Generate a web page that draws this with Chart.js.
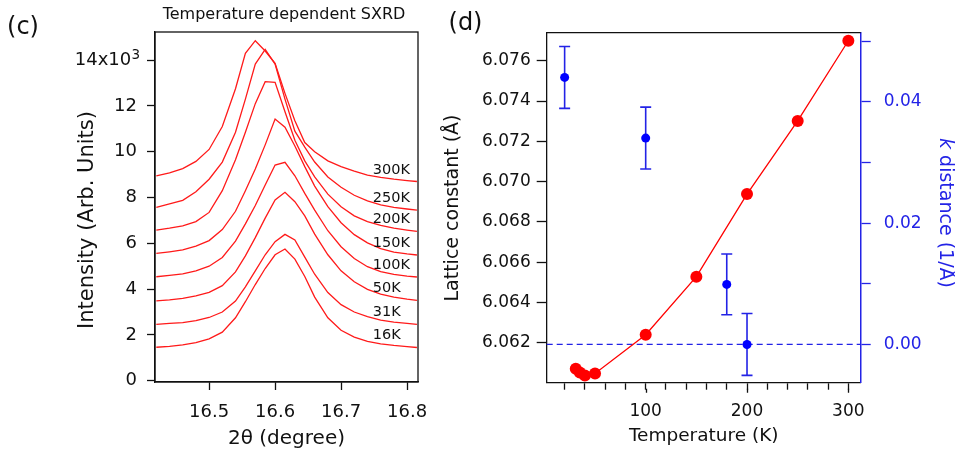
<!DOCTYPE html>
<html>
<head>
<meta charset="utf-8">
<script src="https://cdn.jsdelivr.net/npm/chart.js@4.4.0/dist/chart.umd.min.js"></script>
<style>
  body { margin: 0; background: #fff; }
  #wrap { position: relative; width: 955px; height: 455px; }
  canvas { position: absolute; top: 0; }
</style>
</head>
<body>
<div id="wrap">
  <canvas id="chartC" width="430" height="455" style="left:0"></canvas>
  <canvas id="chartD" width="525" height="455" style="left:430px"></canvas>
</div>
<script>
// --- panel (c): SXRD scans, intensity in units of 10^3 ---
const twoTheta = [16.42, 16.44, 16.46, 16.48, 16.50, 16.52, 16.54, 16.555, 16.57, 16.585, 16.60, 16.615,
                  16.63, 16.645, 16.66, 16.68, 16.70, 16.72, 16.74, 16.76, 16.78, 16.80, 16.815];
const int16K  = [1.46, 1.50, 1.56, 1.66, 1.83, 2.12, 2.75, 3.45, 4.20, 4.90, 5.50, 5.75, 5.31, 4.55, 3.65, 2.75, 2.20, 1.90, 1.72, 1.61, 1.54, 1.49, 1.45];
const int31K  = [2.46, 2.50, 2.54, 2.62, 2.76, 3.00, 3.48, 4.10, 4.80, 5.50, 6.07, 6.39, 6.15, 5.40, 4.65, 3.85, 3.32, 3.00, 2.80, 2.65, 2.56, 2.50, 2.46];
const int50K  = [3.49, 3.53, 3.60, 3.70, 3.86, 4.15, 4.75, 5.45, 6.25, 7.10, 7.89, 8.23, 7.82, 7.20, 6.40, 5.50, 4.80, 4.32, 3.99, 3.78, 3.65, 3.56, 3.51];
const int100K = [4.54, 4.60, 4.67, 4.80, 5.00, 5.38, 6.10, 6.85, 7.65, 8.55, 9.42, 9.54, 8.95, 8.18, 7.45, 6.55, 5.85, 5.34, 4.98, 4.76, 4.64, 4.57, 4.53];
const int150K = [5.56, 5.63, 5.71, 5.88, 6.12, 6.60, 7.40, 8.30, 9.25, 10.30, 11.43, 11.07, 10.25, 9.35, 8.50, 7.60, 6.90, 6.38, 6.02, 5.77, 5.62, 5.54, 5.49];
const int200K = [6.58, 6.66, 6.76, 6.95, 7.35, 8.30, 9.65, 10.85, 12.10, 13.06, 13.03, 11.75, 10.50, 9.60, 8.90, 8.15, 7.60, 7.20, 6.95, 6.78, 6.66, 6.58, 6.52];
const int250K = [7.57, 7.72, 7.88, 8.25, 8.80, 9.55, 10.85, 12.30, 13.83, 14.47, 13.83, 12.30, 10.90, 10.20, 9.55, 8.90, 8.45, 8.10, 7.85, 7.68, 7.57, 7.50, 7.45];
const int300K = [8.95, 9.08, 9.26, 9.58, 10.10, 11.10, 12.75, 14.30, 14.85, 14.40, 13.86, 12.55, 11.35, 10.40, 10.00, 9.60, 9.35, 9.15, 8.98, 8.88, 8.80, 8.74, 8.70];
const curveNames = ["16K", "31K", "50K", "100K", "150K", "200K", "250K", "300K"];
const curves = [int16K, int31K, int50K, int100K, int150K, int200K, int250K, int300K];
const labelTheta = 16.748;

// --- panel (d): lattice constant and k distance vs temperature ---
const tempLattice = [31, 35, 40, 50, 100, 150, 200, 250, 300];
const lattice = [6.06071, 6.06053, 6.06038, 6.06048, 6.06240, 6.06528, 6.06938, 6.07301, 6.07699];
const tempK = [20, 100, 180, 200];
const kDist = [0.0440, 0.0340, 0.0099, 0.0000];
const kErr = [0.0051, 0.0051, 0.0050, 0.0051];
const majorTemps = [100, 200, 300];

const FONT = "'DejaVu Sans', sans-serif";
const INK = "#111";
const BLUE = "#2323e6";
Chart.defaults.font.family = FONT;
Chart.defaults.animation = false;

// pin the plot area: fixed axis size, no extra label padding
function fixAxis(size) {
  return s => {
    if (s.isHorizontal()) s.height = size; else s.width = size;
    s.paddingLeft = 0; s.paddingRight = 0; s.paddingTop = 0; s.paddingBottom = 0;
  };
}

function rotText(ctx, txt, x, y, ang) {
  ctx.save();
  ctx.translate(x, y);
  ctx.rotate(ang);
  ctx.textAlign = "center";
  ctx.textBaseline = "middle";
  ctx.fillText(txt, 0, 0);
  ctx.restore();
}

const panelC = {
  id: "panelC",
  afterDraw(chart) {
    const { ctx, chartArea: a, scales: { x, y } } = chart;
    ctx.save();
    ctx.strokeStyle = INK;
    ctx.lineWidth = 1.3;
    ctx.strokeRect(a.left, a.top, a.right - a.left, a.bottom - a.top);
    ctx.fillStyle = INK;
    ctx.textAlign = "center";
    ctx.textBaseline = "middle";
    ctx.font = "24px " + FONT;
    ctx.fillText("(c)", 23, 28);
    ctx.font = "16px " + FONT;
    ctx.fillText("Temperature dependent SXRD", 284, 15);
    ctx.font = "20px " + FONT;
    ctx.fillText("2\u03b8 (degree)", (a.left + a.right) / 2, 439);
    ctx.font = "21px " + FONT;
    rotText(ctx, "Intensity (Arb. Units)", 88, 220, -Math.PI / 2);
    // exponent of the 14x10^3 tick
    ctx.font = "13.5px " + FONT;
    ctx.textAlign = "left";
    ctx.textBaseline = "alphabetic";
    ctx.fillText("3", a.left - 23.5, y.getPixelForValue(14) - 1.5);
    // curve labels
    ctx.font = "14.5px " + FONT;
    curves.forEach((vals, i) => {
      ctx.fillText(curveNames[i], x.getPixelForValue(labelTheta), y.getPixelForValue(vals[vals.length - 1]) - 8);
    });
    ctx.restore();
  }
};

new Chart(document.getElementById("chartC"), {
  type: "scatter",
  data: {
    datasets: curves.map(vals => ({
      data: twoTheta.map((t, i) => ({ x: t, y: vals[i] })),
      showLine: true,
      pointRadius: 0,
      borderColor: "#ff1a1a",
      borderWidth: 1.3,
      tension: 0
    }))
  },
  options: {
    responsive: false,
    devicePixelRatio: 1,
    layout: { padding: { top: 32, right: 12, left: 0, bottom: 0 } },
    plugins: { legend: { display: false }, tooltip: { enabled: false } },
    scales: {
      x: {
        type: "linear", min: 16.418, max: 16.8166,
        afterFit: fixAxis(73),
        border: { display: true, color: INK, width: 1.3 },
        grid: { drawOnChartArea: false, tickLength: 8, tickColor: INK, tickWidth: 1.3 },
        ticks: {
          stepSize: 0.1, includeBounds: false, autoSkip: false, maxRotation: 0,
          color: INK, font: { size: 18 }, padding: 12,
          callback: v => v.toFixed(1)
        }
      },
      y: {
        type: "linear", min: -0.057, max: 15.23,
        afterFit: fixAxis(155),
        border: { display: true, color: INK, width: 1.3 },
        grid: { drawOnChartArea: false, tickLength: 8, tickColor: INK, tickWidth: 1.3 },
        ticks: {
          stepSize: 2, includeBounds: false, autoSkip: false,
          color: INK, font: { size: 18 }, padding: 10,
          callback: v => Math.round(v) === 14 ? "14x10 " : String(Math.round(v))
        }
      }
    }
  },
  plugins: [panelC]
});

const panelD = {
  id: "panelD",
  beforeDatasetsDraw(chart) {
    const { ctx, chartArea: a, scales: { x, y1 } } = chart;
    ctx.save();
    // zero line of the k distance axis
    ctx.strokeStyle = BLUE;
    ctx.lineWidth = 1.3;
    ctx.setLineDash([6, 4]);
    const y0 = y1.getPixelForValue(0);
    ctx.beginPath();
    ctx.moveTo(a.left, y0);
    ctx.lineTo(a.right, y0);
    ctx.stroke();
    ctx.setLineDash([]);
    // error bars
    ctx.lineWidth = 1.6;
    tempK.forEach((t, i) => {
      const px = x.getPixelForValue(t);
      const top = y1.getPixelForValue(kDist[i] + kErr[i]);
      const bot = y1.getPixelForValue(kDist[i] - kErr[i]);
      ctx.beginPath();
      ctx.moveTo(px, top); ctx.lineTo(px, bot);
      ctx.moveTo(px - 5.5, top); ctx.lineTo(px + 5.5, top);
      ctx.moveTo(px - 5.5, bot); ctx.lineTo(px + 5.5, bot);
      ctx.stroke();
    });
    ctx.restore();
  },
  afterDraw(chart) {
    const { ctx, chartArea: a, scales: { x } } = chart;
    ctx.save();
    ctx.strokeStyle = INK;
    ctx.lineWidth = 1.3;
    ctx.beginPath();
    ctx.moveTo(a.left, a.top);
    ctx.lineTo(a.right, a.top);
    // labelled ticks are a little longer
    majorTemps.forEach(t => {
      const px = Math.round(x.getPixelForValue(t)) + 0.5;
      ctx.moveTo(px, a.bottom + 6);
      ctx.lineTo(px, a.bottom + 10);
    });
    ctx.stroke();
    ctx.fillStyle = INK;
    ctx.textAlign = "center";
    ctx.textBaseline = "middle";
    ctx.font = "24px " + FONT;
    ctx.fillText("(d)", 35.5, 24);
    ctx.font = "18.5px " + FONT;
    ctx.fillText("Temperature (K)", (a.left + a.right) / 2, 436);
    ctx.font = "19px " + FONT;
    rotText(ctx, "Lattice constant (\u00c5)", 23, 208, -Math.PI / 2);
    // right axis title, italic k
    ctx.fillStyle = BLUE;
    ctx.save();
    ctx.translate(515, 213);
    ctx.rotate(Math.PI / 2);
    ctx.textBaseline = "middle";
    ctx.textAlign = "left";
    const rest = " distance (1/\u00c5)";
    ctx.font = "italic 19px " + FONT;
    const wk = ctx.measureText("k").width;
    ctx.font = "19px " + FONT;
    const wr = ctx.measureText(rest).width;
    const x0 = -(wk + wr) / 2;
    ctx.font = "italic 19px " + FONT;
    ctx.fillText("k", x0, 0);
    ctx.font = "19px " + FONT;
    ctx.fillText(rest, x0 + wk, 0);
    ctx.restore();
    ctx.restore();
  }
};

new Chart(document.getElementById("chartD"), {
  type: "scatter",
  data: {
    datasets: [
      {
        data: tempLattice.map((t, i) => ({ x: t, y: lattice[i] })),
        yAxisID: "y",
        showLine: true,
        borderColor: "#ff0000",
        backgroundColor: "#ff0000",
        borderWidth: 1.3,
        pointRadius: 6,
        pointBorderWidth: 0,
        tension: 0
      },
      {
        data: tempK.map((t, i) => ({ x: t, y: kDist[i] })),
        yAxisID: "y1",
        showLine: false,
        backgroundColor: "#0000ff",
        borderColor: "#0000ff",
        pointRadius: 4.5,
        pointBorderWidth: 0
      }
    ]
  },
  options: {
    responsive: false,
    devicePixelRatio: 1,
    clip: false,
    layout: { padding: { top: 32.7, right: 0, left: 0, bottom: 0 } },
    plugins: { legend: { display: false }, tooltip: { enabled: false } },
    scales: {
      x: {
        type: "linear", min: 2.3, max: 312.2,
        afterFit: fixAxis(72.3),
        border: { display: true, color: INK, width: 1.3 },
        grid: { drawOnChartArea: false, tickLength: 7, tickColor: INK, tickWidth: 1.3 },
        ticks: {
          stepSize: 20, includeBounds: false, autoSkip: false, maxRotation: 0,
          color: INK, font: { size: 17 }, padding: 12,
          callback: v => Math.abs(v % 100) < 1e-6 ? String(v) : ""
        }
      },
      y: {
        type: "linear", position: "left", min: 6.06002, max: 6.07739,
        afterFit: fixAxis(116.7),
        border: { display: true, color: INK, width: 1.3 },
        grid: { drawOnChartArea: false, tickLength: 10, tickColor: INK, tickWidth: 1.3 },
        ticks: {
          stepSize: 0.002, includeBounds: false, autoSkip: false,
          color: INK, font: { size: 17 }, padding: 6,
          callback: v => v.toFixed(3)
        }
      },
      y1: {
        type: "linear", position: "right", min: -0.0063, max: 0.05137,
        afterFit: fixAxis(94.3),
        border: { display: true, color: BLUE, width: 1.5 },
        grid: { drawOnChartArea: false, tickLength: 10, tickColor: BLUE, tickWidth: 1.3 },
        ticks: {
          stepSize: 0.01, includeBounds: false, autoSkip: false,
          color: BLUE, font: { size: 17 }, padding: 13,
          callback: v => {
            const r = Math.round(v * 100);
            return (r % 2 === 0 && r < 5) ? v.toFixed(2) : "";
          }
        }
      }
    }
  },
  plugins: [panelD]
});
</script>
</body>
</html>
